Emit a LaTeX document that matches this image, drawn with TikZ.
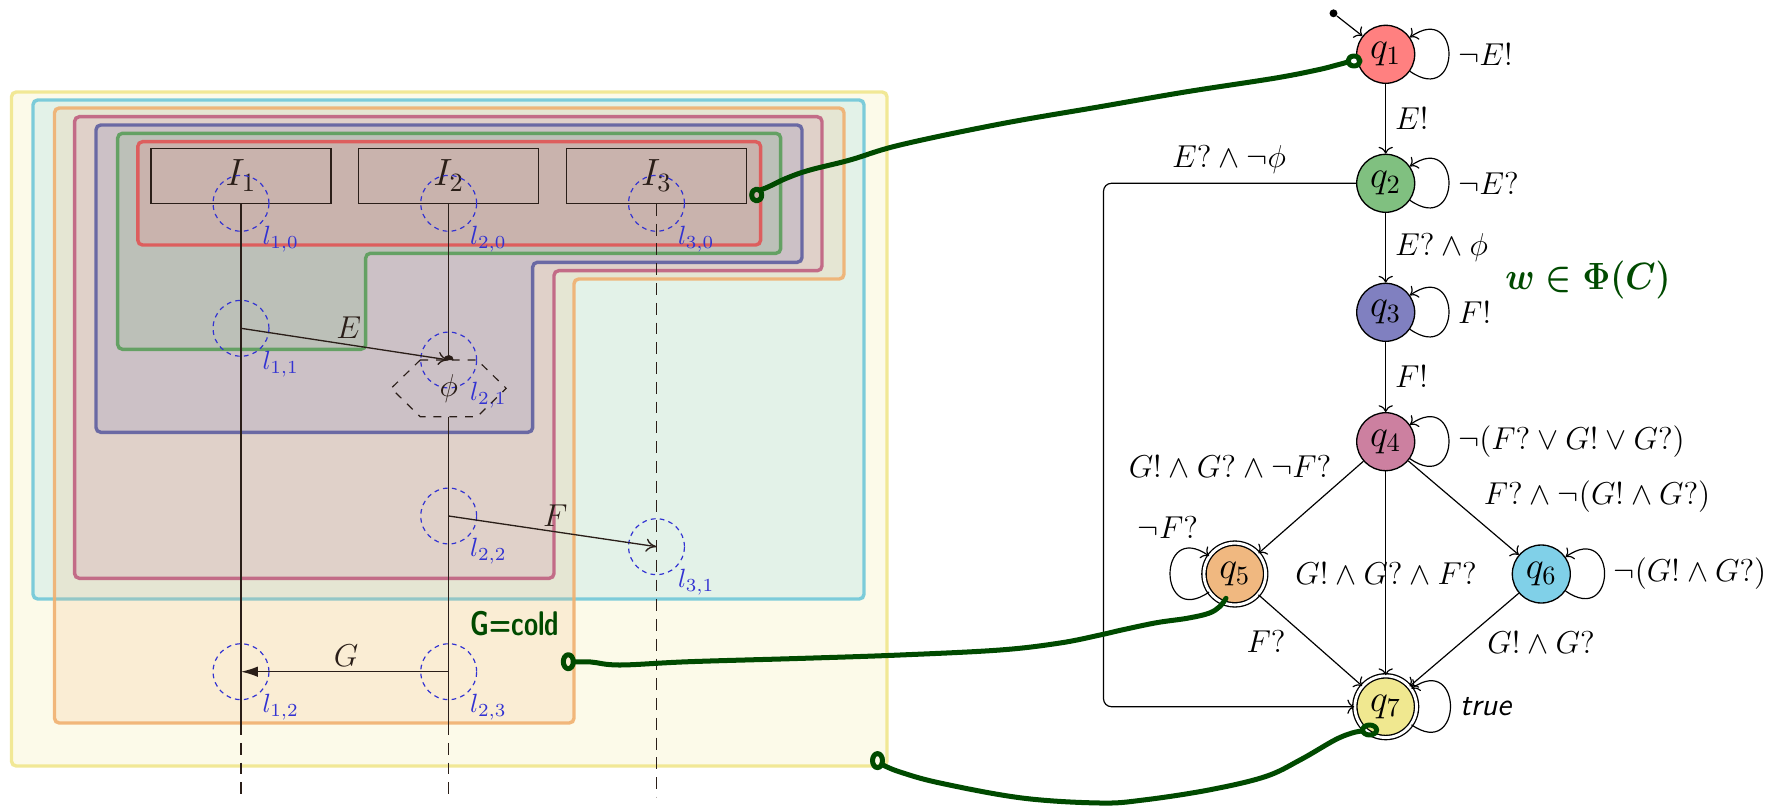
\documentclass[tikz,border=0pt]{standalone}
\usepackage{amsmath,amssymb}
\usepackage{graphicx}
\usetikzlibrary{arrows.meta}
\definecolor{sA}{HTML}{FF8080}
\definecolor{sB}{HTML}{80C080}
\definecolor{sC}{HTML}{8080C0}
\definecolor{sD}{HTML}{CC80A0}
\definecolor{sE}{HTML}{F0B880}
\definecolor{sF}{HTML}{80D0E8}
\definecolor{sG}{HTML}{F0E890}
\definecolor{bA}{HTML}{E05555}
\definecolor{bB}{HTML}{5A9E5A}
\definecolor{bC}{HTML}{5F5FA0}
\definecolor{bD}{HTML}{C06080}
\definecolor{bE}{HTML}{F0B070}
\definecolor{bF}{HTML}{70C8D8}
\definecolor{bG}{HTML}{F0E68C}
\definecolor{locblue}{HTML}{3232D2}
\definecolor{seqink}{HTML}{2A1E18}
\definecolor{hand}{HTML}{004A00}
\begin{document}
\begin{tikzpicture}[x=0.3794pt,y=0.3794pt,
  lifebox/.style={draw=seqink, line width=0.45pt, minimum width=68.3pt, minimum height=20.9pt, inner sep=0pt, font=\Large, text=seqink},
  loc/.style={circle, draw=locblue, line width=0.45pt, dash pattern=on 1.8pt off 1.6pt, minimum size=21.2pt, inner sep=0pt},
  loclab/.style={text=locblue, anchor=north west, inner sep=0pt},
  life/.style={draw=seqink, line width=0.45pt},
  lifedash/.style={draw=seqink, line width=0.5pt, dash pattern=on 4.5pt off 3pt},
  msg/.style={draw=seqink, line width=0.5pt},
  msglab/.style={font=\large, text=seqink},
  region/.style={line width=1.3pt, rounded corners=1.8pt, fill opacity=0.2, draw opacity=0.9},
  state/.style={circle, draw, line width=0.5pt, minimum size=22pt, inner sep=0pt, font=\Large},
  accstate/.style={state, double, double distance=1.1pt, minimum size=23.4pt},
  tr/.style={->, line width=0.45pt},
  lp/.style={tr, distance=24pt},
  elab/.style={font=\large},
  handline/.style={draw=hand, line width=1.9pt, line cap=round, line join=round},
]
\useasboundingbox (0,0) rectangle (1780,-806);

% ---------- regions (background) ----------
\draw[region, draw=bG, fill=sG] (11.5,-92) rectangle (887,-766);
\draw[region, draw=bF, fill=sF] (33,-100) rectangle (864,-599);
\draw[region, draw=bE, fill=sE] (54.5,-108) -- (844,-108) -- (844,-279) -- (574,-279) -- (574,-723) -- (54.5,-723) -- cycle;
\draw[region, draw=bD, fill=sD] (74.6,-116.7) -- (822,-116.7) -- (822,-270.7) -- (554,-270.7) -- (554,-578.3) -- (74.6,-578.3) -- cycle;
\draw[region, draw=bC, fill=sC] (96,-125) -- (802,-125) -- (802,-262.3) -- (532.7,-262.3) -- (532.7,-432.3) -- (96,-432.3) -- cycle;
\draw[region, draw=bB, fill=sB] (117.7,-133.3) -- (780.7,-133.3) -- (780.7,-253.3) -- (365.7,-253.3) -- (365.7,-349.3) -- (117.7,-349.3) -- cycle;
\draw[region, draw=bA, fill=sA] (137.8,-141.7) rectangle (760.6,-245);

% ---------- sequence diagram ----------
\node[lifebox] (I1) at (241,-175.8) {$I_1$};
\node[lifebox] (I2) at (448.7,-175.8) {$I_2$};
\node[lifebox] (I3) at (656.5,-175.8) {$I_3$};

\coordinate (e1) at (241,-723);   \coordinate (f1) at (241,-797);
\coordinate (e2) at (448.7,-723); \coordinate (f2) at (448.7,-797);
\coordinate (f3) at (656.5,-797);
\coordinate (h2t) at (448.7,-360); \coordinate (h2b) at (448.7,-416.7);

\draw[life] (I1.south) -- (e1);
\draw[lifedash] (e1) -- (f1);
\draw[life] (I2.south) -- (h2t);
\draw[life] (h2b) -- (e2);
\draw[lifedash] (e2) -- (f2);
\draw[lifedash] (I3.south) -- (f3);

\node[loc] (l10) at (241,-203.3) {};
\node[loc] (l20) at (448.7,-203.3) {};
\node[loc] (l30) at (656.5,-203.3) {};
\node[loc] (l11) at (241,-328.3) {};
\node[loc] (l21) at (448.7,-360) {};
\node[loc] (l22) at (448.7,-516) {};
\node[loc] (l31) at (656.5,-546.7) {};
\node[loc] (l12) at (241,-671.7) {};
\node[loc] (l23) at (448.7,-671.7) {};

\node[loclab] (t10) at (262,-225.3) {$l_{1,0}$};
\node[loclab] (t20) at (469.7,-225.3) {$l_{2,0}$};
\node[loclab] (t30) at (677.5,-225.3) {$l_{3,0}$};
\node[loclab] (t11) at (262,-350.3) {$l_{1,1}$};
\node[loclab] (t21) at (469.7,-382) {$l_{2,1}$};
\node[loclab] (t22) at (469.7,-538) {$l_{2,2}$};
\node[loclab] (t31) at (677.5,-568.7) {$l_{3,1}$};
\node[loclab] (t12) at (262,-693.7) {$l_{1,2}$};
\node[loclab] (t23) at (469.7,-693.7) {$l_{2,3}$};

\draw[seqink, dashed, line width=0.45pt] (420.2,-360) -- (477.2,-360) -- (506.2,-388.3) -- (477.2,-416.7) -- (420.2,-416.7) -- (391.2,-388.3) -- cycle;
\node[msglab] (phi) at (448.7,-388.3) {$\phi$};

\draw[msg, -{To[length=4pt,width=5pt]}] (l11.center) -- (l21.center);
\fill[seqink] (443.7,-360) arc[start angle=180,end angle=0,radius=5] -- cycle;
\node[msglab] (mE) at (348.7,-327.5) {$E$};
\draw[msg, -{To[length=4pt,width=5pt]}] (l22.center) -- (l31.center);
\node[msglab] (mF) at (555.4,-515.5) {$F$};
\draw[msg, -{Latex[length=6.4pt,width=4pt]}, fill=seqink] (l23.center) -- (l12.center);
\node[msglab] (mG) at (346,-656) {$G$};

% ---------- automaton ----------
\node[state, fill=sA] (q1) at (1385.7,-54.3) {$q_1$};
\node[state, fill=sB] (q2) at (1385.7,-183.3) {$q_2$};
\node[state, fill=sC] (q3) at (1385.7,-312.3) {$q_3$};
\node[state, fill=sD] (q4) at (1385.7,-441.7) {$q_4$};
\node[accstate, fill=sE] (q5) at (1234.8,-574) {$q_5$};
\node[state, fill=sF] (q6) at (1541.3,-574) {$q_6$};
\node[accstate, fill=sG] (q7) at (1385.7,-706.7) {$q_7$};
\node[circle, fill, inner sep=0pt, minimum size=3pt] (init) at (1333.5,-13.3) {};

\draw[tr] (init) -- (q1);
\draw[lp] (q1) to[out=-35,in=35] node[right, elab]{$\neg E!$} (q1);
\draw[lp] (q2) to[out=-35,in=35] node[right, elab]{$\neg E?$} (q2);
\draw[lp] (q3) to[out=-35,in=35] node[right, elab]{$F!$} (q3);
\draw[lp] (q4) to[out=-35,in=35] node[right, elab]{$\neg(F?\vee G!\vee G?)$} (q4);
\draw[lp] (q6) to[out=-35,in=35] node[right, elab]{$\neg(G!\wedge G?)$} (q6);
\draw[lp] (q7) to[out=-35,in=35] node[right, elab]{\textsf{\textit{true}}} (q7);
\draw[lp] (q5) to[out=215,in=145] (q5);
\node[elab] (lab55) at (1168,-528) {$\neg F?$};

\draw[tr] (q1) -- node[right, elab]{$E!$} (q2);
\draw[tr] (q2) -- node[right, elab]{$E?\wedge\phi$} (q3);
\draw[tr] (q3) -- node[right, elab]{$F!$} (q4);
\draw[tr] (q4) -- (q5);
\draw[tr] (q4) -- (q6);
\draw[tr] (q4) -- (q7);
\draw[tr] (q5) -- (q7);
\draw[tr] (q6) -- (q7);
\draw[tr, rounded corners=3pt] (q2.west) -- (1103.5,-183.3) -- (1103.5,-706.7) -- (q7.west);

\node[elab] (lab27) at (1229,-160) {$E?\wedge\neg\phi$};
\node[elab] (lab45) at (1230,-467) {$G!\wedge G?\wedge\neg F?$};
\node[elab] (lab46) at (1597,-497) {$F?\wedge\neg(G!\wedge G?)$};
\node[elab] (lab47) at (1386,-574) {$G!\wedge G?\wedge F?$};
\node[elab] (lab57) at (1266,-642) {$F?$};
\node[elab] (lab67) at (1541,-643) {$G!\wedge G?$};

% ---------- hand annotations ----------
\draw[handline] plot[smooth, tension=0.6] coordinates {(760,-190) (768,-187) (787,-178) (810,-170) (850,-160) (900,-145) (1000,-124) (1100,-106.7) (1187,-91.7) (1274,-78.3) (1317,-70) (1337,-65) (1348,-62)};
\draw[handline] (756.7,-195) circle[x radius=5, y radius=6];
\draw[handline] (1354,-61) circle[x radius=6, y radius=5];

\draw[handline] plot[smooth, tension=0.6] coordinates {(574,-662) (591,-662) (620,-665) (689,-661.7) (803.7,-658.3) (900,-655) (1000,-650) (1060,-643) (1100,-635) (1121.7,-630) (1156.5,-622.7) (1187,-618.3) (1208.7,-613.3) (1219.6,-606.7) (1226,-598.3)};
\draw[handline] (568.3,-661.7) circle[x radius=5, y radius=7];

\draw[handline] plot[smooth, tension=0.6] coordinates {(883,-765) (900,-772) (940,-783) (1022,-798) (1100,-803) (1143.5,-800) (1208.7,-790) (1265,-776.7) (1300,-760) (1334.8,-740) (1352,-733) (1362,-731)};
\draw[handline] (877.5,-760.6) circle[x radius=5, y radius=7];
\draw[handline] (1369.6,-730) circle[x radius=7, y radius=5];

\node[text=hand, font=\sffamily\bfseries\fontsize{13}{13}\selectfont] (gcold) at (515,-624) {\scalebox{0.75}[1]{G=cold}};
\node[text=hand, font=\fontsize{15.5}{15.5}\selectfont, inner sep=0pt] (wphi) at (1588,-280) {\scalebox{0.9}[1]{$\boldsymbol{w\in\Phi(C)}$}};
\end{tikzpicture}
\end{document}
